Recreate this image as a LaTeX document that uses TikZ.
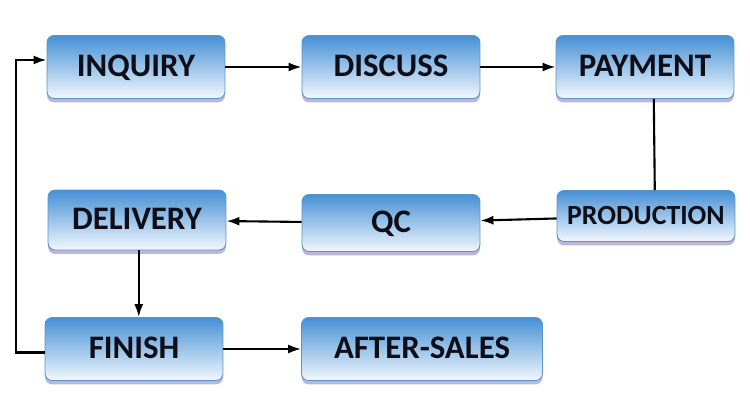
\documentclass[tikz,border=0pt]{standalone}
\usepackage{fontspec}
\setmainfont{Carlito}
\usetikzlibrary{arrows.meta,shadows}
\definecolor{boxtop}{HTML}{4690D5}
\definecolor{boxmid}{HTML}{93C6EC}
\definecolor{boxbot}{HTML}{F2F8FD}
\definecolor{boxedge}{HTML}{5A94CC}
\definecolor{boxshade}{HTML}{BEB5DB}
\definecolor{txtdark}{HTML}{0E0E18}

\begin{document}
\begin{tikzpicture}[x=0.02cm,y=-0.02cm,>=Latex,
 stage/.style={rounded corners=4pt,draw=boxedge,line width=0.5pt,top color=boxtop,middle color=boxmid,bottom color=boxbot,
  minimum width=3.56cm,minimum height=1.26cm,inner sep=2pt,text=txtdark,font=\fontsize{18.7}{20}\selectfont\bfseries,
  text height=11pt,text depth=0pt,
  drop shadow={shadow xshift=0pt,shadow yshift=-2.2pt,fill=boxshade,opacity=1}},
 a/.style={-{Latex[length=2.6mm,width=1.8mm]},line width=1.2pt,black}]
\useasboundingbox (0,0) rectangle (750,400);

\node[stage] (inq) at (136,67) {INQUIRY};
\node[stage] (dis) at (391,67) {DISCUSS};
\node[stage] (pay) at (645,67) {PAYMENT};
\node[stage,minimum height=1.2cm] (del) at (137,220) {DELIVERY};
\node[stage,minimum height=1.14cm] (qc) at (391,223) {QC};
\node[stage,minimum height=1.02cm,text height=9.6pt,font=\fontsize{15.8}{17}\selectfont\bfseries] (prod) at (646,216) {PRODUCTION};
\node[stage] (fin) at (134,349) {FINISH};
\node[stage,minimum width=4.82cm] (aft) at (422,349) {AFTER-SALES};

\draw[a] (inq) -- (dis);
\draw[a] (dis) -- (pay);
\draw[line width=1.2pt] ([xshift=5pt]pay.south) -- ([xshift=5pt]prod.north);
\draw[a] (prod) -- (qc);
\draw[a] (qc) -- (del);
\draw[a] ([xshift=1pt]del.south) -- ([xshift=1pt]del.south |- fin.north);
\draw[a] (fin) -- (aft);
\draw[a] ([yshift=-2pt]fin.west) -- ++(-29,0) |- ([yshift=4pt]inq.west);
\end{tikzpicture}
\end{document}
